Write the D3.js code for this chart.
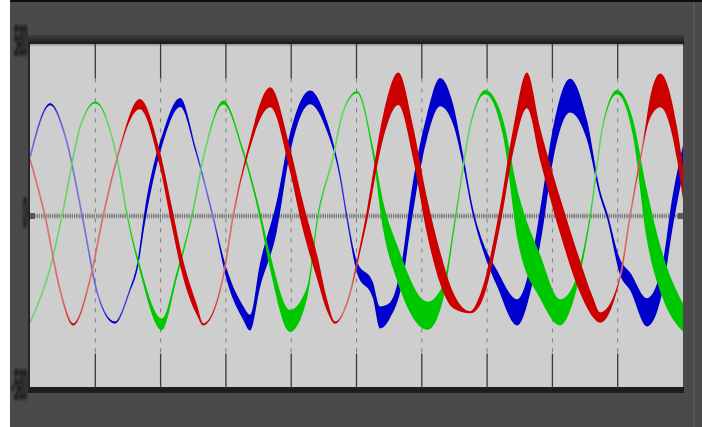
<!DOCTYPE html>
<html>
<head>
<meta charset="utf-8">
<script src="https://cdn.jsdelivr.net/npm/d3@7"></script>
<style>
body { margin: 0; background: #fff; }
svg { display: block; }
</style>
</head>
<body>
<script>
// scope capture: time in ms (10 ms / div), value in V
// W = half spread of the noisy trace band (0 = clean thin trace)
var blueT = [0, 3.1, 5.5, 8.0, 10.4, 13.0, 15.3, 16.4, 17.6, 20.4, 23.0, 25.4, 28.0, 30.2, 32.6, 33.7, 35.2, 37.8, 39.8, 42.9, 45.5, 47.5, 48.5, 50.1, 52.5, 53.6, 55.1, 57.1, 58.2, 60.8, 62.8, 64.8, 66.3, 67.8, 69.4, 71.5, 74.6, 77.0, 78.4, 80.1, 82.7, 85.3, 87.3, 88.4, 90.4, 91.9, 94.5, 96.9, 98.3, 100];
var blueV = [170, 325, 225, 0, -230, -310, -215, -150, 0, 230, 330, 190, 0, -175, -280, -310, -175, 0, 210, 345, 260, 115, 0, -150, -215, -295, -275, -150, 0, 260, 360, 295, 165, 15, -90, -180, -280, -150, 0, 210, 350, 250, 65, 0, -150, -190, -280, -175, 0, 165];
var blueW = [0, 3, 0, 0, 0, 3, 3, 9, 20, 15, 13, 5, 0, 17, 20, 23, 35, 44, 29, 20, 15, 6, 6, 17, 23, 32, 23, 35, 44, 35, 41, 29, 15, 9, 12, 23, 38, 41, 52, 47, 49, 29, 9, 9, 23, 26, 41, 41, 47, 41];

var greenT = [0, 3.1, 4.9, 7.7, 10.0, 13.3, 14.9, 16.8, 20.2, 22.5, 24.8, 26.8, 29.6, 32.6, 35.2, 36.8, 39.8, 42.4, 44.1, 46.4, 47.9, 50.1, 52.5, 54.1, 56.2, 60.9, 63.2, 65.2, 67.4, 69.7, 72.4, 74.7, 78.1, 81.2, 83.2, 85.8, 87.7, 89.9, 92.3, 94.5, 96.9, 100];
var greenV = [-310, -150, 0, 260, 330, 170, 0, -150, -315, -170, 0, 190, 330, 190, 5, -135, -305, -225, 0, 170, 300, 360, 190, 0, -135, -290, -225, 0, 260, 360, 260, 0, -175, -280, -225, 0, 260, 360, 260, 0, -175, -295];
var greenW = [0, 0, 0, 0, 3, 0, 3, 9, 17, 9, 3, 0, 6, 6, 12, 23, 32, 17, 6, 0, 0, 3, 12, 41, 52, 41, 23, 6, 0, 6, 23, 73, 64, 38, 23, 6, 0, 6, 23, 73, 64, 41];

var redT = [0, 2.3, 4.6, 6.6, 9.2, 11.2, 13.3, 16.8, 19.9, 21.7, 23.4, 25.6, 26.5, 29.6, 31.1, 33.2, 36.8, 39.8, 41.8, 44.0, 45.5, 46.7, 49.0, 50.5, 51.6, 54.1, 56.4, 58.7, 60.8, 62.8, 64.8, 67.4, 68.9, 72.0, 74.0, 76.1, 78.1, 81.2, 84.2, 86.2, 87.3, 90.4, 91.9, 93.9, 94.9, 96.5, 99.1, 100];
var redV = [165, 0, -215, -315, -185, 0, 165, 325, 165, 0, -150, -275, -315, -175, 0, 175, 345, 165, 0, -150, -260, -310, -225, -100, 0, 260, 370, 210, 0, -150, -245, -280, -245, 0, 220, 365, 210, 0, -175, -265, -295, -175, 0, 210, 310, 365, 210, 95];
var redW = [0, 0, 0, 3, 0, 0, 0, 15, 23, 29, 26, 15, 3, 0, 0, 9, 29, 35, 41, 35, 17, 3, 0, 9, 17, 35, 47, 47, 52, 47, 23, 3, 15, 29, 35, 52, 47, 52, 47, 29, 15, 0, 0, 3, 29, 49, 47, 47];

var yTicks = [500, 0, -500];
var gridT = [10, 20, 30, 40, 50, 60, 70, 80, 90];
var solidBands = [[400, 500], [-500, -400]];

var width = 702, height = 427;
var plot = {left: 30, right: 683, top: 44, bottom: 388};

var svg = d3.select("body").append("svg")
    .attr("width", width)
    .attr("height", height);

var x = d3.scaleLinear().domain([0, 100]).range([plot.left, plot.right]);
var y = d3.scaleLinear().domain([-500, 500]).range([plot.bottom, plot.top]);

var defs = svg.append("defs");
var grad = defs.append("linearGradient").attr("id", "topband")
    .attr("x1", 0).attr("y1", 0).attr("x2", 0).attr("y2", 1);
grad.append("stop").attr("offset", "0%").attr("stop-color", "#3e3e3e");
grad.append("stop").attr("offset", "100%").attr("stop-color", "#161616");
defs.append("filter").attr("id", "soft")
    .attr("filterUnits", "userSpaceOnUse")
    .attr("x", 0).attr("y", 0).attr("width", width).attr("height", height)
  .append("feGaussianBlur").attr("stdDeviation", 0.55);
defs.append("filter").attr("id", "softer")
    .attr("filterUnits", "userSpaceOnUse")
    .attr("x", 0).attr("y", 0).attr("width", width).attr("height", height)
  .append("feGaussianBlur").attr("stdDeviation", 0.8);
defs.append("clipPath").attr("id", "plotclip")
  .append("rect")
    .attr("x", plot.left).attr("y", plot.top)
    .attr("width", plot.right - plot.left).attr("height", plot.bottom - plot.top);

// panel
svg.append("rect").attr("x", 10).attr("y", 0).attr("width", 692).attr("height", 427).attr("fill", "#4a4a4a");
svg.append("rect").attr("x", 10).attr("y", 0).attr("width", 692).attr("height", 2).attr("fill", "#0e0e0e");
svg.append("rect").attr("x", 693).attr("y", 2).attr("width", 2).attr("height", 425).attr("fill", "#565656");

// frame round the plot
svg.append("rect").attr("x", plot.left - 2).attr("y", 35)
    .attr("width", plot.right - plot.left + 3).attr("height", 10).attr("fill", "url(#topband)");
svg.append("rect").attr("x", plot.left - 2).attr("y", plot.bottom - 1)
    .attr("width", plot.right - plot.left + 3).attr("height", 6).attr("fill", "#1d1d1d");
svg.append("rect").attr("x", plot.left - 2).attr("y", plot.top)
    .attr("width", 2).attr("height", plot.bottom - plot.top).attr("fill", "#262626");

svg.append("rect")
    .attr("x", plot.left).attr("y", plot.top)
    .attr("width", plot.right - plot.left).attr("height", plot.bottom - plot.top - 1)
    .attr("fill", "#cecece");
svg.append("rect")
    .attr("x", plot.left).attr("y", plot.top)
    .attr("width", plot.right - plot.left).attr("height", 2)
    .attr("fill", "#a8a8a8");

// grid
var grid = svg.append("g").attr("class", "grid");
gridT.forEach(function(t) {
    solidBands.forEach(function(b) {
        grid.append("line")
            .attr("x1", x(t)).attr("x2", x(t))
            .attr("y1", y(b[0])).attr("y2", y(b[1]))
            .attr("stroke", "#3a3a3a").attr("stroke-width", 1.3);
    });
    grid.append("line")
        .attr("x1", x(t)).attr("x2", x(t))
        .attr("y1", y(400)).attr("y2", y(-400))
        .attr("stroke", "#7c7c7c").attr("stroke-width", 1)
        .attr("stroke-dasharray", "4,6");
});

// zero line (dotted band)
grid.append("line")
    .attr("x1", x(0)).attr("x2", x(100))
    .attr("y1", y(0)).attr("y2", y(0))
    .attr("stroke", "#8a8a8a").attr("stroke-width", 5)
    .attr("stroke-dasharray", "1.2,1")
    .attr("filter", "url(#soft)");
grid.append("line")
    .attr("x1", x(0)).attr("x2", x(100))
    .attr("y1", y(0)).attr("y2", y(0))
    .attr("stroke", "#6e6e6e").attr("stroke-width", 1.5)
    .attr("stroke-dasharray", "1.2,1");
grid.append("rect").attr("x", x(0)).attr("y", y(0) - 3).attr("width", 5).attr("height", 6).attr("fill", "#5a5a5a");
grid.append("rect").attr("x", x(100) - 5).attr("y", y(0) - 3).attr("width", 5).attr("height", 6).attr("fill", "#5a5a5a");

// traces
var phases = [
    {t: blueT, v: blueV, w: blueW, thick: "#0000cc", thin: "#7676dc"},
    {t: greenT, v: greenV, w: greenW, thick: "#00c800", thin: "#6ad66a"},
    {t: redT, v: redV, w: redW, thick: "#cc0000", thin: "#d87272"}
];

var line = d3.line()
    .x(function(d) { return x(d[0]); })
    .y(function(d) { return y(d[1]); })
    .curve(d3.curveMonotoneX);

var band = d3.area()
    .x(function(d) { return x(d[0]); })
    .y0(function(d) { return y(d[1] - d[2]); })
    .y1(function(d) { return y(d[1] + d[2]); })
    .curve(d3.curveMonotoneX);

var traces = svg.append("g")
    .attr("clip-path", "url(#plotclip)")
  .append("g")
    .attr("filter", "url(#soft)");

phases.forEach(function(p) {
    var pts = d3.zip(p.t, p.v, p.w);
    traces.append("path")
        .attr("d", line(pts))
        .attr("fill", "none")
        .attr("stroke", p.thin)
        .attr("stroke-width", 1.7);
    traces.append("path")
        .attr("d", band(pts))
        .attr("fill", p.thick);
});

// value labels, squeezed tall like on the scope
var labels = svg.append("g").attr("filter", "url(#softer)");
yTicks.forEach(function(v) {
    labels.append("text")
        .attr("transform", "translate(27.5," + (y(v) - 3) + ") scale(0.45,3.1)")
        .attr("text-anchor", "end")
        .attr("dominant-baseline", "central")
        .attr("font-family", "DejaVu Sans")
        .attr("font-size", "14px")
        .attr("font-weight", "bold")
        .attr("fill", "#111")
        .text(v);
});
</script>
</body>
</html>
